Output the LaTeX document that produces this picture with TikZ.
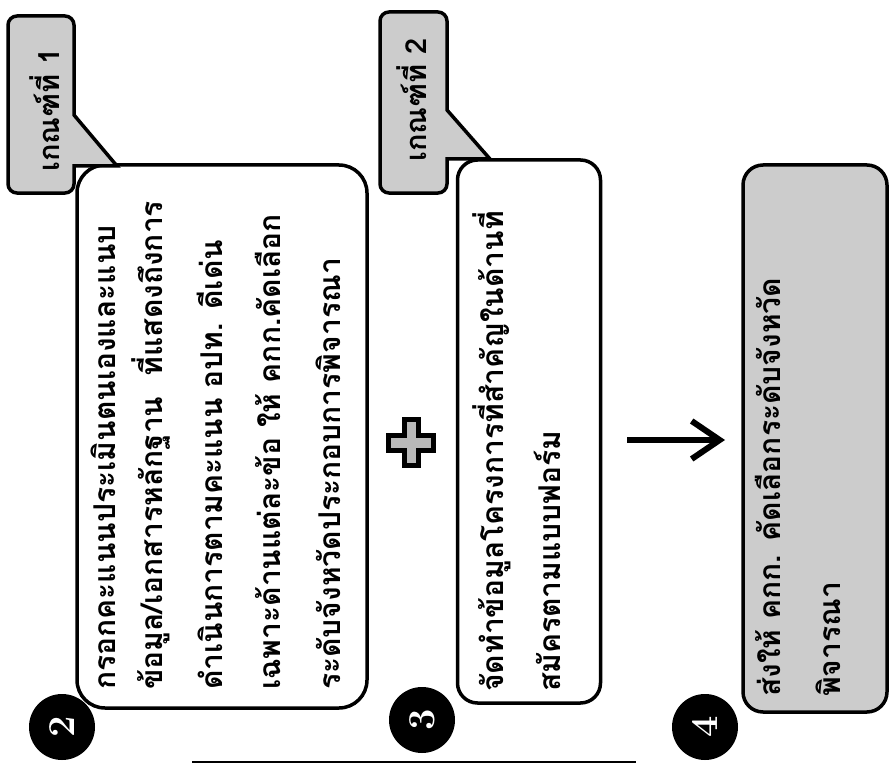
\documentclass[tikz,border=0pt]{standalone}
\usepackage{fontspec}
\newfontfamily\thaifont[Script=Thai]{Loma}
\usetikzlibrary{arrows.meta}
\definecolor{tagfill}{gray}{0.80}
\definecolor{boxgray}{gray}{0.80}
\tikzset{
  box/.style={draw=black, line width=3.5pt, rounded corners=24pt, fill=white},
  tline/.style={rotate=90, anchor=west, inner sep=0pt, font=\thaifont\bfseries\fontsize{30}{34}\selectfont},
  tagtext/.style={rotate=90, inner sep=0pt, font=\thaifont\bfseries\fontsize{29}{32}\selectfont},
  tagshape/.style={draw=black, line width=3.5pt, fill=tagfill},
  numdot/.style={circle, fill=black, minimum size=66pt, inner sep=0pt, text=white, rotate=90, font=\bfseries\fontsize{38}{38}\selectfont},
}
\begin{document}
\begin{tikzpicture}[x=1pt,y=-1pt]
\useasboundingbox (0,0) rectangle (889,765);
% boxes
\node[box, minimum width=290pt, minimum height=543pt, rounded corners=28pt] (b1) at (222,436.5) {};
\node[box, minimum width=143pt, minimum height=543pt, rounded corners=20pt] (b2) at (529,431.5) {};
\node[box, fill=boxgray, minimum width=144pt, minimum height=547pt, rounded corners=20pt] (b3) at (815,438.5) {};
% callouts
\path[tagshape] (8,16) [rounded corners=9pt] -- (74,16) [sharp corners] -- (74,115) -- (117,166) -- (74,166) [rounded corners=9pt] -- (74,193) -- (8,193) -- cycle;
\path[tagshape] (380,12) [rounded corners=9pt] -- (447,12) [sharp corners] -- (447,110) -- (490,159) -- (447,159) [rounded corners=9pt] -- (447,193) -- (380,193) -- cycle;
\node[tagtext] (k1) at (45,110) {เกณฑ์ที่ 1};
\node[tagtext] (k2) at (412,100) {เกณฑ์ที่ 2};
% box 1 text
\node[tline] (l11) at (103,690) {กรอกคะแนนประเมินตนเองและแนบ};
\node[tline] (l12) at (151,690) {ข้อมูล/เอกสารหลักฐาน\ \ ที่แสดงถึงการ};
\node[tline] (l13) at (210,690) {ดำเนินการตามคะแนน อปท. ดีเด่น};
\node[tline] (l14) at (268,690) {เฉพาะด้านแต่ละข้อ ให้ คกก.คัดเลือก};
\node[tline] (l15) at (328,690) {ระดับจังหวัดประกอบการพิจารณา};
% box 2 text
\node[tline] (l21) at (492,692) {จัดทำข้อมูลโครงการที่สำคัญในด้านที่};
\node[tline] (l22) at (547,692) {สมัครตามแบบฟอร์ม};
% box 3 text
\node[tline] (l31) at (768,697) {ส่งให้ คกก. คัดเลือกระดับจังหวัด};
\node[tline] (l32) at (828,697) {พิจารณา};
% plus
\node[inner sep=0pt] (plus) at (411,443) {};
\fill[black] (402,417) rectangle (421,468);
\fill[black] (386,433) rectangle (436,453);
\fill[gray!55] (407,422) rectangle (416,463);
\fill[gray!55] (391,438) rectangle (431,448);
% arrow
\coordinate (a1) at (627,440);
\coordinate (a2) at (725,440);
\draw[line width=5.5pt, -{Straight Barb[length=28pt,width=38pt,line width=6pt]}] (a1) -- (a2);
% number dots
\node[numdot] (n2) at (62,727) {2};
\node[numdot] (n3) at (422,720) {3};
\node[numdot] (n4) at (705,727) {4};
% bottom rule
\coordinate (r1) at (192,762);
\coordinate (r2) at (636,762);
\draw[line width=1.5pt] (r1) -- (r2);
\end{tikzpicture}
\end{document}
